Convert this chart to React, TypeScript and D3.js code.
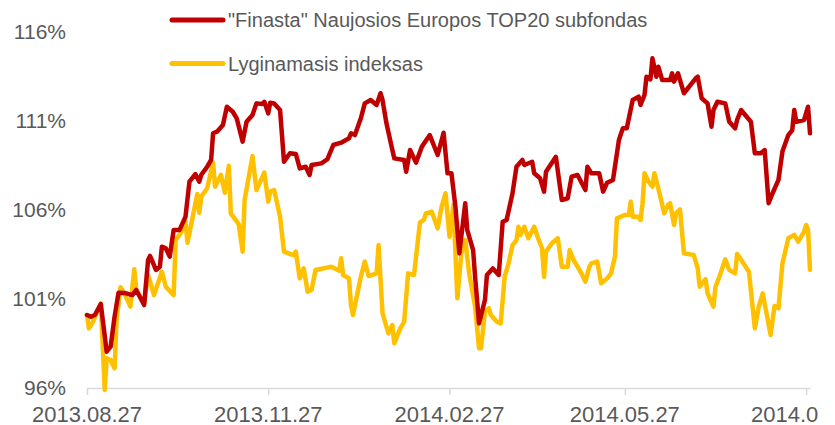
import { useEffect, useRef } from 'react'
import * as d3 from 'd3'

// days since 2013.08.27, value in %
const fundDays = [0, 2, 4, 7, 10, 12, 14, 16, 19, 23, 25, 29, 31, 32, 35, 37, 38, 40, 42, 44, 47, 50, 52, 55, 57, 58, 61, 63, 64, 66, 69, 71, 74, 76, 79, 81, 84, 86, 89, 90, 92, 93, 95, 98, 100, 103, 106, 108, 111, 113, 114, 119, 122, 125, 129, 133, 134, 136, 139, 141, 144, 147, 149, 150, 152, 155, 156, 161, 162, 164, 167, 170, 174, 178, 181, 183, 185, 187, 189, 192, 193, 196, 197, 199, 202, 203, 206, 209, 211, 213, 216, 218, 221, 222, 226, 227, 230, 232, 233, 238, 241, 244, 246, 249, 253, 254, 256, 260, 262, 264, 267, 270, 272, 274, 277, 280, 281, 283, 284, 286, 287, 289, 290, 292, 296, 297, 298, 300, 303, 305, 309, 310, 312, 315, 317, 318, 320, 324, 326, 329, 330, 332, 337, 339, 342, 344, 346, 348, 351, 353, 356, 358, 359, 360, 364, 366, 367]
const fundValues = [100.1, 100.0, 100.1, 100.72, 98.04, 98.32, 100.01, 101.35, 101.34, 101.22, 101.51, 100.66, 103.19, 103.42, 102.63, 102.81, 103.94, 103.85, 103.38, 104.88, 104.88, 105.62, 107.59, 108.02, 107.59, 107.97, 108.43, 108.81, 110.31, 110.4, 110.78, 111.8, 111.52, 111.15, 109.84, 110.96, 111.34, 111.99, 111.96, 112.08, 111.43, 112.03, 111.99, 111.62, 108.71, 109.19, 109.15, 108.34, 108.43, 107.97, 108.53, 108.62, 108.85, 109.65, 109.78, 110.03, 110.31, 110.21, 111.15, 111.99, 112.18, 111.9, 112.56, 112.18, 110.87, 109.37, 108.9, 108.81, 108.15, 109.37, 108.66, 109.56, 110.21, 109.09, 110.34, 108.06, 108.06, 106.19, 103.57, 106.38, 104.88, 103.75, 102.25, 99.63, 100.94, 102.35, 102.72, 102.35, 105.34, 105.44, 106.94, 108.43, 108.81, 108.53, 108.71, 108.06, 107.78, 107.03, 108.15, 108.99, 106.56, 106.66, 107.87, 107.97, 107.12, 108.43, 108.06, 108.06, 107.03, 107.53, 107.69, 109.93, 110.59, 110.59, 112.18, 112.37, 111.9, 112.46, 113.49, 113.34, 114.52, 113.49, 114.05, 113.3, 113.3, 113.68, 113.21, 113.68, 112.56, 112.84, 113.4, 113.49, 112.28, 111.99, 110.68, 111.62, 112.08, 111.99, 110.96, 110.59, 111.06, 111.62, 110.96, 109.19, 109.19, 109.37, 106.38, 106.94, 107.69, 109.28, 110.21, 110.49, 111.62, 110.96, 111.06, 111.8, 110.31]

const indexDays = [0, 1, 3, 7, 9, 10, 12, 14, 15, 17, 19, 22, 24, 25, 29, 31, 34, 38, 40, 44, 45, 48, 50, 51, 56, 57, 58, 61, 64, 65, 68, 70, 72, 73, 77, 79, 80, 84, 86, 90, 92, 93, 95, 98, 100, 103, 105, 106, 108, 110, 112, 114, 116, 124, 128, 129, 130, 133, 134, 135, 139, 141, 143, 147, 148, 150, 153, 155, 156, 159, 161, 163, 166, 169, 171, 172, 175, 178, 180, 182, 184, 186, 188, 190, 192, 194, 197, 199, 200, 202, 204, 205, 208, 210, 212, 214, 216, 218, 219, 220, 222, 224, 227, 229, 231, 232, 233, 236, 239, 241, 244, 245, 247, 251, 253, 255, 256, 259, 261, 264, 266, 268, 269, 273, 275, 276, 277, 280, 281, 282, 283, 285, 287, 288, 290, 293, 295, 296, 298, 299, 301, 303, 308, 310, 311, 314, 315, 318, 319, 321, 324, 326, 329, 330, 331, 336, 339, 341, 343, 347, 349, 351, 353, 356, 359, 361, 364, 365, 366, 367]
const indexValues = [100.1, 99.35, 99.72, 100.76, 95.89, 97.67, 97.57, 97.11, 99.82, 101.66, 101.32, 100.57, 102.67, 101.51, 100.76, 102.35, 101.22, 102.53, 101.69, 101.22, 104.31, 104.78, 105.34, 104.16, 106.9, 105.85, 106.75, 107.22, 108.66, 107.31, 107.97, 106.97, 108.49, 105.81, 105.21, 103.66, 106.56, 109.03, 107.12, 108.1, 106.47, 107.03, 107.12, 105.62, 103.66, 103.53, 103.47, 103.66, 102.16, 102.72, 101.41, 101.51, 102.63, 102.81, 102.59, 103.29, 102.35, 102.16, 100.66, 100.1, 102.25, 103.1, 102.29, 102.44, 104.03, 100.2, 99.07, 99.54, 98.51, 99.35, 99.72, 102.44, 102.35, 105.3, 105.44, 105.81, 105.9, 104.97, 106.19, 106.94, 104.5, 106.28, 101.04, 103.57, 104.31, 102.44, 100.57, 98.23, 98.23, 100.29, 100.48, 100.1, 99.72, 99.63, 102.25, 103.0, 104.03, 104.31, 105.06, 104.6, 105.06, 104.41, 105.06, 104.41, 103.85, 102.25, 103.66, 104.13, 104.41, 102.81, 102.81, 103.75, 103.19, 102.44, 101.97, 102.81, 103.0, 103.1, 101.88, 102.16, 102.44, 103.38, 105.53, 105.72, 105.72, 106.47, 105.62, 105.62, 105.44, 106.38, 108.06, 107.59, 107.31, 108.06, 107.22, 105.81, 106.28, 106.38, 105.16, 105.81, 106.04, 103.57, 103.47, 102.72, 101.69, 102.11, 101.32, 100.57, 101.69, 102.25, 103.23, 102.63, 102.44, 103.53, 103.38, 102.53, 99.35, 100.57, 101.32, 98.98, 100.61, 100.48, 103.0, 104.41, 104.6, 104.22, 104.78, 105.16, 104.88, 102.63]

const yTicks = [96, 101, 106, 111, 116]
const xTickLabels = ['2013.08.27', '2013.11.27', '2014.02.27', '2014.05.27', '2014.08.27']
const seriesNames = ['"Finasta" Naujosios Europos TOP20 subfondas', 'Lyginamasis indeksas']
const seriesColors = ['#C00000', '#FFC000']

const W = 835
const H = 425
const FONT = 'Arial, "Liberation Sans", sans-serif'

export default function App() {
  const svgRef = useRef<SVGSVGElement>(null)

  useEffect(() => {
    if (!svgRef.current) return
    const svg = d3.select(svgRef.current)
    svg.selectAll('*').remove()

    const start = new Date(2013, 7, 27)
    const parse = d3.timeParse('%Y.%m.%d')
    const fmt = d3.timeFormat('%Y.%m.%d')

    const x = d3.scaleTime()
      .domain([start, d3.timeDay.offset(start, 367)])
      .range([87, 810])
    const y = d3.scaleLinear().domain([96, 116]).range([388, 32])

    // the source image is cropped just right of the plot
    svg.append('defs').append('clipPath').attr('id', 'crop')
      .append('rect').attr('x', 0).attr('y', 0).attr('width', 818).attr('height', H)

    // y labels (no gridlines)
    svg.append('g').selectAll('text').data(yTicks).join('text')
      .attr('x', 66).attr('y', d => y(d)).attr('dy', '0.35em')
      .attr('text-anchor', 'end')
      .attr('font-family', FONT).attr('font-size', '21px').attr('fill', '#595959')
      .text(d => `${d}%`)

    // x axis
    const tickDates = xTickLabels.map(s => parse(s) as Date)
    const xAxis = svg.append('g').attr('transform', `translate(0,${y(96)})`)
      .call(d3.axisBottom(x).tickValues(tickDates).tickSize(7).tickSizeOuter(0).tickFormat(() => ''))
    xAxis.selectAll('path,line').attr('stroke', '#D9D9D9').attr('stroke-width', 1.5)
    svg.append('g').attr('clip-path', 'url(#crop)')
      .selectAll('text').data(tickDates).join('text')
      .attr('x', d => x(d)).attr('y', 422)
      .attr('text-anchor', 'middle')
      .attr('font-family', FONT).attr('font-size', '22px').attr('fill', '#595959')
      .text(d => fmt(d))

    const line = d3.line<[number, number]>()
      .x(d => x(d3.timeDay.offset(start, d[0])))
      .y(d => y(d[1]))

    const series: [number, number][][] = [
      fundDays.map((d, i) => [d, fundValues[i]]),
      indexDays.map((d, i) => [d, indexValues[i]]),
    ]

    // index drawn first so the fund line sits on top
    ;[1, 0].forEach(i => {
      svg.append('path')
        .datum(series[i])
        .attr('fill', 'none')
        .attr('stroke', seriesColors[i])
        .attr('stroke-width', 4.5)
        .attr('stroke-linejoin', 'round')
        .attr('stroke-linecap', 'round')
        .attr('d', line)
    })

    // legend
    const lg = svg.append('g')
    seriesNames.forEach((name, i) => {
      const ly = 20 + i * 43.5
      lg.append('line')
        .attr('x1', 172).attr('x2', 223).attr('y1', ly).attr('y2', ly)
        .attr('stroke', seriesColors[i]).attr('stroke-width', 5).attr('stroke-linecap', 'round')
      lg.append('text')
        .attr('x', 228).attr('y', ly).attr('dy', '0.35em')
        .attr('font-family', FONT).attr('font-size', '20px').attr('fill', '#595959')
        .text(name)
    })
  }, [])

  return (
    <div style={{ position: 'absolute', left: 0, top: 0, width: W, height: H, background: '#fff' }}>
      <svg ref={svgRef} width={W} height={H} style={{ display: 'block', overflow: 'hidden' }} />
    </div>
  )
}
